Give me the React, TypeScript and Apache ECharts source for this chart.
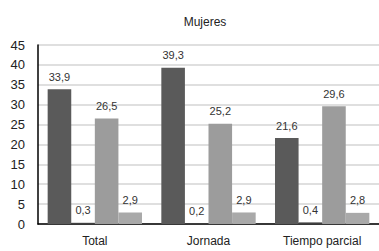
import React, { useEffect, useRef } from "react";
import * as echarts from "echarts";

const categories = ["Total", "Jornada", "Tiempo parcial"];
const serie1 = [33.9, 39.3, 21.6];
const serie2 = [0.3, 0.2, 0.4];
const serie3 = [26.5, 25.2, 29.6];
const serie4 = [2.9, 2.9, 2.8];
const colors = ["#5a5a5a", "#404040", "#9c9c9c", "#a9a9a9"];
const yTicks = { min: 0, max: 45, interval: 5 };

export default function App() {
  const ref = useRef<HTMLDivElement>(null);
  useEffect(() => {
    document.body.style.margin = "0";
    const chart = echarts.init(ref.current!, null, { renderer: "svg" });
    const font = "'Liberation Sans', Arial, sans-serif";
    const mk = (data: number[], i: number) => ({
      type: "bar",
      data,
      barGap: "0%",
      barCategoryGap: "17%",
      itemStyle: { color: colors[i] },
      label: {
        show: true,
        position: "top",
        distance: 7,
        fontSize: 11,
        fontFamily: font,
        color: "#333",
        formatter: (p: any) => String(p.value).replace(".", ","),
      },
    });
    chart.setOption({
      animation: false,
      title: {
        text: "Mujeres",
        left: 200,
        top: 11,
        textAlign: "center",
        textStyle: { fontSize: 12, fontWeight: "normal", fontFamily: font, color: "#222" },
      },
      grid: { left: 38, right: 0, top: 45, bottom: 27 },
      xAxis: {
        type: "category",
        data: categories,
        axisLine: { lineStyle: { color: "#000", width: 1.5 } },
        axisTick: { show: false },
        axisLabel: { fontSize: 12, fontFamily: font, color: "#222", margin: 11 },
      },
      yAxis: {
        type: "value",
        min: yTicks.min,
        max: yTicks.max,
        interval: yTicks.interval,
        axisLine: { show: true, lineStyle: { color: "#000", width: 1.5 } },
        axisTick: { show: false },
        splitLine: { lineStyle: { color: "#d4d4d4", width: 1.5 } },
        axisLabel: { fontSize: 13, fontFamily: font, color: "#222", margin: 13 },
      },
      series: [mk(serie1, 0), mk(serie2, 1), mk(serie3, 2), mk(serie4, 3)],
    });
    return () => chart.dispose();
  }, []);
  return <div ref={ref} style={{ width: 379, height: 251 }} />;
}
